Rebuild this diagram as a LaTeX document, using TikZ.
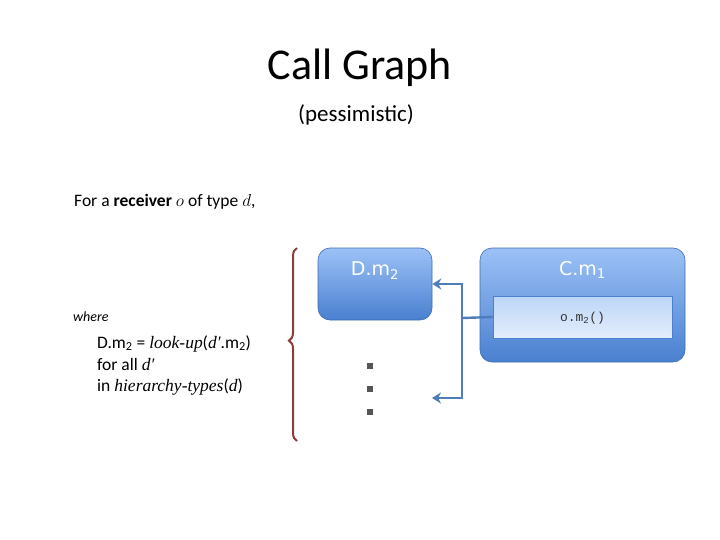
\documentclass[tikz,border=0pt]{standalone}
\usepackage{fontspec}
\setmainfont{Carlito}
\setmonofont{Liberation Mono}
\newfontfamily\boxfont{DejaVu Sans}
\newfontfamily\serifit{Liberation Serif}
\usetikzlibrary{arrows.meta,decorations.pathreplacing}
\definecolor{boxtop}{HTML}{9CC1F6}
\definecolor{boxbot}{HTML}{4A80D0}
\definecolor{innertop}{HTML}{BCD5F7}
\definecolor{innerbot}{HTML}{E4EEFC}
\definecolor{callline}{HTML}{4E7DB9}
\definecolor{bracecol}{HTML}{8E3B3B}
\definecolor{dotgrey}{HTML}{555555}
\newcommand{\fn}[1]{{\serifit\itshape #1}}
\tikzset{
  methodbox/.style={rounded corners=12pt, draw=boxbot!85!black, line width=0.6pt,
    top color=boxtop, bottom color=boxbot, inner sep=0pt},
  callbox/.style={draw=boxbot, line width=0.8pt, top color=innertop, bottom color=innerbot, inner sep=0pt},
  boxlabel/.style={text=white, font=\boxfont\fontsize{19}{21}\selectfont},
  callline/.style={draw=callline, line width=2.4pt},
  callarrow/.style={callline, -{Stealth[length=9pt,width=11pt]}},
  dotsq/.style={fill=dotgrey, minimum size=6pt, inner sep=0pt},
  bodytext/.style={anchor=base west, inner sep=0pt, text height=11pt, text depth=2pt,
    font=\fontsize{17.5}{20}\selectfont},
}
\begin{document}
\begin{tikzpicture}[x=1pt,y=-1pt]
		%%%%% START %%%%%
		\useasboundingbox (0,0) rectangle (720,540);
		
		\node[font=\fontsize{44}{50}\selectfont] (title) at (360,68) {Call Graph};
		\node[font=\fontsize{23}{26}\selectfont] (sub) at (356,115) {(pessimistic)};
		
		\node[bodytext] (recv) at (74,207) {For a \textbf{receiver} $o$ of type $d$,};
		\node[bodytext, font=\itshape\fontsize{14}{16}\selectfont] (where) at (73,321) {where};
		\node[bodytext] (lookup) at (97,348) {D.m\textsubscript{2} = \fn{look-up}(\fn{d′}.m\textsubscript{2})};
		\node[bodytext] (forall) at (97,370) {for all \fn{d′}};
		\node[bodytext] (hier) at (97,391) {in \fn{hierarchy-types}(\fn{d})};
		
		\draw[bracecol, line width=2pt,
			decoration={brace, amplitude=8pt, aspect=0.52}, decorate] (297,441) -- (297,248);
		
		\node[methodbox, minimum width=114pt, minimum height=72pt] (dm) at (375,284) {};
		\node[boxlabel] (dlabel) at (375,271) {D.m\textsubscript{2}};
		
		\node[methodbox, minimum width=205pt, minimum height=114pt] (cm) at (582.5,305) {};
		\node[boxlabel] (clabel) at (582.5,270) {C.m\textsubscript{1}};
		\node[callbox, minimum width=179pt, minimum height=42pt] (call) at (582.5,317) {};
		\node[font=\ttfamily\fontsize{13}{15}\selectfont, text=black!80] (ctext) at (582.5,318) {o.m\textsubscript{2}()};
		
		\foreach \y in {366,389,412}
			\node[dotsq] (dot\y) at (370,\y) {};
		
		\coordinate (split) at (462,318);
		\coordinate (more) at (432,398);
		\draw[callline] (call.west) -- (split);
		\draw[callarrow] (split) |- (dm.east);
		\draw[callarrow] (split) |- (more);
		%%%%% END %%%%%
\end{tikzpicture}
\end{document}
